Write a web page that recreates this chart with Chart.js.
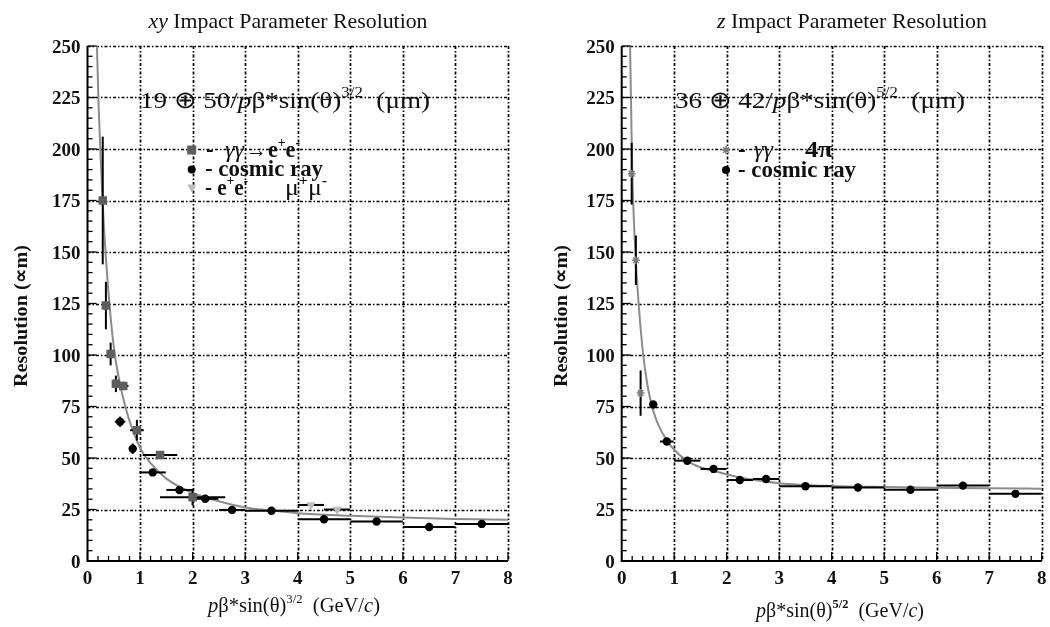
<!DOCTYPE html>
<html><head><meta charset="utf-8">
<script src="https://cdn.jsdelivr.net/npm/chart.js@4/dist/chart.umd.min.js"></script>
<style>
html,body{margin:0;padding:0;background:#fff;}
#wrap{position:relative;width:1050px;height:627px;overflow:hidden;background:#fff;}
canvas{position:absolute;top:0;}
</style></head><body>
<div id="wrap"><canvas id="c1" width="525" height="627" style="left:0"></canvas><canvas id="c2" width="525" height="627" style="left:525px"></canvas></div>
<script>
// ---------- data ----------
const xTickLabels = ['0','1','2','3','4','5','6','7','8'];
const yTickLabels = ['0','25','50','75','100','125','150','175','200','225','250'];

// xy panel: gamma gamma -> e+e-
const xyGgX    = [0.29, 0.35, 0.44, 0.54, 0.68, 0.94, 1.38, 2.0];
const xyGgY    = [175, 124, 100.5, 86, 85, 63.5, 51.5, 31];
const xyGgXErr = [0, 0, 0, 0, 0.1, 0.13, 0.33, 0.62];
const xyGgYErr = [31, 11.5, 5.5, 4, 2, 5, 1, 4];
// xy panel: cosmic ray
const xyCosX    = [0.62, 0.86, 1.24, 1.75, 2.24, 2.75, 3.5, 4.5, 5.5, 6.5, 7.5];
const xyCosY    = [67.6, 54.5, 43, 34.5, 30.2, 24.8, 24.4, 20.3, 19.2, 16.5, 18];
const xyCosXErr = [0.1, 0.07, 0.25, 0.25, 0.25, 0.25, 0.5, 0.5, 0.5, 0.5, 0.5];
const xyCosYErr = [2.5, 2.5, 1, 1, 1, 0.5, 0.5, 0.5, 0.5, 0.5, 0.5];
// xy panel: e+e- -> mu+mu-
const xyMuX    = [4.25, 4.75];
const xyMuY    = [27.2, 25];
const xyMuXErr = [0.25, 0.25];
const xyMuYErr = [0, 0];
// xy panel: fit curve
const xyFitX = [0.18, 0.21, 0.25, 0.29, 0.35, 0.42, 0.5, 0.6, 0.7, 0.8, 1.0, 1.2, 1.5, 2.0, 2.5, 3.0, 3.5, 4.0, 5.0, 6.0, 7.0, 8.0];
const xyFitY = [250, 222, 196, 173, 147, 124, 104, 88, 77, 68, 55, 47.5, 40, 33, 29, 26, 24.5, 23.2, 22, 21.1, 20.4, 20];

// z panel: gamma gamma -> 4pi
const zGgX    = [0.19, 0.27, 0.36];
const zGgY    = [188, 146, 81.5];
const zGgXErr = [0.03, 0.03, 0.03];
const zGgYErr = [15, 12, 11];
// z panel: cosmic ray
const zCosX    = [0.6, 0.86, 1.25, 1.75, 2.25, 2.75, 3.5, 4.5, 5.5, 6.5, 7.5];
const zCosY    = [76, 58, 48.7, 44.7, 39.3, 39.8, 36.3, 35.7, 34.6, 36.6, 32.6];
const zCosXErr = [0.07, 0.13, 0.25, 0.25, 0.25, 0.25, 0.5, 0.5, 0.5, 0.5, 0.5];
const zCosYErr = [1.5, 1.5, 1, 1, 1, 1, 0.5, 0.5, 0.5, 0.5, 0.5];
// z panel: fit curve
const zFitX = [0.16, 0.2, 0.25, 0.3, 0.35, 0.41, 0.48, 0.54, 0.6, 0.7, 0.86, 1.0, 1.25, 1.5, 1.75, 2.25, 3.0, 4.0, 5.0, 6.0, 7.0, 8.0];
const zFitY = [250, 190, 155, 133, 116, 100, 87, 79, 73, 66, 58.5, 54, 48.5, 45.5, 43.8, 40.5, 37.8, 36.4, 35.9, 35.6, 35.3, 35.1];

// ---------- helpers ----------
const SERIF = '"Liberation Serif","Times New Roman",serif';
function pts(xs, ys){ return xs.map((x,i)=>({x:x, y:ys[i]})); }
function fontStr(s, size){ return (s.i?'italic ':'')+(s.b?'bold ':'')+size+'px '+SERIF; }
function rich(ctx, segs, x, y, size, width, align){
  let total=0; const ms=[];
  for(const s of segs){ const sz = s.sup? size*0.62 : size; ctx.font=fontStr(s,sz); const w=ctx.measureText(s.t).width; ms.push([sz,w]); total+=w; }
  const k = width ? width/total : 1;
  const x0 = align==='center' ? x-total*k/2 : (align==='right' ? x-total*k : x);
  ctx.save(); ctx.translate(x0,y); ctx.scale(k,1);
  ctx.textAlign='left'; ctx.textBaseline='alphabetic';
  let cx=0;
  segs.forEach((s,i)=>{ ctx.font=fontStr(s,ms[i][0]); ctx.fillStyle=s.c||'#111'; ctx.fillText(s.t, cx, s.sup ? -size*0.45 : 0); cx+=ms[i][1]; });
  ctx.restore();
}
function marker(ctx, style, x, y, color){
  ctx.save(); ctx.fillStyle=color; ctx.strokeStyle=color;
  if(style==='rect'){ ctx.fillRect(x-4.5,y-4.5,9,9); }
  else if(style==='circle'){ ctx.beginPath(); ctx.arc(x,y,4,0,Math.PI*2); ctx.fill(); }
  else if(style==='tri'){ ctx.beginPath(); ctx.moveTo(x-4.5,y-4); ctx.lineTo(x+4.5,y-4); ctx.lineTo(x,y+4); ctx.closePath(); ctx.fill(); }
  else if(style==='star'){ ctx.lineWidth=1.5; ctx.beginPath(); for(let a=0;a<4;a++){ const t=a*Math.PI/4; ctx.moveTo(x-4*Math.cos(t),y-4*Math.sin(t)); ctx.lineTo(x+4*Math.cos(t),y+4*Math.sin(t)); } ctx.stroke(); }
  ctx.restore();
}

function panelPlugin(off, spec){
  return {
    id:'panel'+off,
    beforeDatasetsDraw(chart){
      const ctx=chart.ctx, a=chart.chartArea, xs=chart.scales.x, ys=chart.scales.y;
      ctx.save(); ctx.strokeStyle='#000'; ctx.lineWidth=1.7; ctx.setLineDash([3,2,1.5,2]);
      xTickLabels.forEach(l=>{ const v=+l; if(v===0) return; const p=Math.round(xs.getPixelForValue(v))+0.5; ctx.beginPath(); ctx.moveTo(p,a.top); ctx.lineTo(p,a.bottom); ctx.stroke(); });
      yTickLabels.forEach(l=>{ const v=+l; if(v===0) return; const p=Math.round(ys.getPixelForValue(v))+0.5; ctx.beginPath(); ctx.moveTo(a.left,p); ctx.lineTo(a.right,p); ctx.stroke(); });
      ctx.restore();
    },
    afterDatasetDraw(chart, args){
      if(args.index!==0) return;
      const ctx=chart.ctx, xs=chart.scales.x, ys=chart.scales.y;
      ctx.save(); ctx.strokeStyle='#000'; ctx.lineWidth=2; ctx.setLineDash([]);
      chart.data.datasets.forEach(ds=>{
        if(!ds.errX) return;
        ds.data.forEach((p,i)=>{
          const ex=ds.errX[i], ey=ds.errY[i];
          if(ex>0){ ctx.beginPath(); ctx.moveTo(xs.getPixelForValue(p.x-ex), ys.getPixelForValue(p.y)); ctx.lineTo(xs.getPixelForValue(p.x+ex), ys.getPixelForValue(p.y)); ctx.stroke(); }
          if(ey>0){ ctx.beginPath(); ctx.moveTo(xs.getPixelForValue(p.x), ys.getPixelForValue(p.y-ey)); ctx.lineTo(xs.getPixelForValue(p.x), ys.getPixelForValue(p.y+ey)); ctx.stroke(); }
        });
      });
      ctx.restore();
    },
    afterDraw(chart){
      const ctx=chart.ctx, a=chart.chartArea, xs=chart.scales.x, ys=chart.scales.y;
      ctx.save();
      ctx.translate(-off,0);
      const L=a.left+off, R=a.right+off, T=a.top, B=a.bottom;
      // axes
      ctx.strokeStyle='#000'; ctx.lineWidth=2; ctx.setLineDash([]);
      ctx.beginPath(); ctx.moveTo(L,T); ctx.lineTo(L,B); ctx.lineTo(R,B); ctx.stroke();
      ctx.lineWidth=1.3;
      for(let v=0; v<=250; v+=5){ const p=ys.getPixelForValue(v); const len = (v%25===0)?9:5; ctx.beginPath(); ctx.moveTo(L,p); ctx.lineTo(L+len,p); ctx.stroke(); }
      for(let k=0; k<=40; k++){ const v=k*0.2; const p=xs.getPixelForValue(v)+off; const len=(k%5===0)?9:5; ctx.beginPath(); ctx.moveTo(p,B); ctx.lineTo(p,B-len); ctx.stroke(); }
      // tick labels
      yTickLabels.forEach(l=>{ const p=ys.getPixelForValue(+l); rich(ctx,[{t:l,b:1}], L-7, p+6.5, 19, 0, 'right'); });
      xTickLabels.forEach(l=>{ const p=xs.getPixelForValue(+l)+off; rich(ctx,[{t:l,b:1}], p, 584, 19, 0, 'center'); });
      // titles
      rich(ctx, spec.title, spec.titleX, 28, 22, spec.titleW, 'center');
      rich(ctx, spec.xtitle, spec.xtitleX, spec.xtitleY, 20, spec.xtitleW, 'center');
      ctx.save(); ctx.translate(spec.ytitleX, 316); ctx.rotate(-Math.PI/2);
      rich(ctx, [{t:'Resolution (∝m)', b:1}], 0, 0, 19, 142, 'center');
      ctx.restore();
      rich(ctx, spec.formula, spec.formulaX, 108, 24, 290, 'left');
      // legend
      spec.legend.forEach(e=>{
        marker(ctx, e.m, e.mx, e.my, e.mc);
        e.parts.forEach(pt=> rich(ctx, pt.segs, pt.x, e.base, pt.size||23, pt.w||0, 'left'));
      });
      ctx.restore();
    }
  };
}

function makeChart(id, off, pad, datasets, spec){
  return new Chart(document.getElementById(id), {
    type:'scatter',
    data:{datasets:datasets},
    options:{
      responsive:false, animation:false, devicePixelRatio:1, events:[],
      layout:{padding:pad},
      plugins:{legend:{display:false}, tooltip:{enabled:false}, title:{display:false}},
      scales:{ x:{type:'linear', min:0, max:8, display:false}, y:{type:'linear', min:0, max:250, display:false} }
    },
    plugins:[panelPlugin(off, spec)]
  });
}

function fitDs(xs, ys){ return {type:'line', data:pts(xs,ys), borderColor:'#8c8c8c', borderWidth:2, pointRadius:0, cubicInterpolationMode:'monotone', fill:false, order:10}; }

// ---------- left panel ----------
makeChart('c1', 0, {left:87.5, right:17, top:46, bottom:66}, [
  fitDs(xyFitX, xyFitY),
  {data:pts(xyMuX,xyMuY), errX:xyMuXErr, errY:xyMuYErr, pointStyle:'triangle', rotation:180, pointRadius:5.5, backgroundColor:'#bdbdbd', borderColor:'#bdbdbd', borderWidth:0},
  {data:pts(xyCosX,xyCosY), errX:xyCosXErr, errY:xyCosYErr, pointStyle:'circle', pointRadius:4.2, backgroundColor:'#000', borderColor:'#000', borderWidth:0},
  {data:pts(xyGgX,xyGgY), errX:xyGgXErr, errY:xyGgYErr, pointStyle:'rect', pointRadius:6, backgroundColor:'#5e5e5e', borderColor:'#5e5e5e', borderWidth:0}
], {
  title:[{t:'xy',i:1},{t:' Impact Parameter Resolution'}], titleX:288, titleW:279,
  xtitle:[{t:'p',i:1},{t:'β*sin(θ)'},{t:'3/2',sup:1},{t:'  (GeV/'},{t:'c',i:1},{t:')'}], xtitleX:294, xtitleY:612, xtitleW:172,
  ytitleX:27,
  formula:[{t:'19 ⊕ 50/'},{t:'p',i:1},{t:'β*sin(θ)'},{t:'3/2',sup:1},{t:'  (μm)'}], formulaX:140,
  legend:[
    {m:'rect', mx:191.7, my:150, mc:'#5e5e5e', base:157, parts:[{segs:[{t:'-',b:1}],x:206},{segs:[{t:'γγ',i:1}],x:225,size:24},{segs:[{t:'→'}],x:246,size:21},{segs:[{t:'e',b:1},{t:'+',b:1,sup:1},{t:'e',b:1},{t:'-',b:1,sup:1}],x:268,w:32}]},
    {m:'circle', mx:191.7, my:169.5, mc:'#000', base:176, parts:[{segs:[{t:'- cosmic ray',b:1}],x:205,w:118}]},
    {m:'tri', mx:191.7, my:188.5, mc:'#bdbdbd', base:195, parts:[{segs:[{t:'- e',b:1},{t:'+',b:1,sup:1},{t:'e',b:1},{t:'-',b:1,sup:1}],x:205,w:43},{segs:[{t:'μ'},{t:'+',b:1,sup:1},{t:'μ'},{t:'-',b:1,sup:1}],x:285,w:42}]}
  ]
});

// ---------- right panel ----------
makeChart('c2', 525, {left:96.7, right:8.3, top:46, bottom:66}, [
  fitDs(zFitX, zFitY),
  {data:pts(zCosX,zCosY), errX:zCosXErr, errY:zCosYErr, pointStyle:'circle', pointRadius:4.2, backgroundColor:'#000', borderColor:'#000', borderWidth:0},
  {data:pts(zGgX,zGgY), errX:zGgXErr, errY:zGgYErr, pointStyle:'star', pointRadius:4, backgroundColor:'#7a7a7a', borderColor:'#7a7a7a', borderWidth:1.5}
], {
  title:[{t:'z',i:1},{t:' Impact Parameter Resolution'}], titleX:852, titleW:270,
  xtitle:[{t:'p',i:1},{t:'β*sin(θ)'},{t:'5/2',sup:1,b:1},{t:'  (GeV/'},{t:'c',i:1},{t:')'}], xtitleX:840, xtitleY:617, xtitleW:168,
  ytitleX:567,
  formula:[{t:'36 ⊕ 42/'},{t:'p',i:1},{t:'β*sin(θ)'},{t:'5/2',sup:1},{t:'  (μm)'}], formulaX:675,
  legend:[
    {m:'star', mx:726, my:150, mc:'#7a7a7a', base:157, parts:[{segs:[{t:'-',b:1}],x:738},{segs:[{t:'γγ',i:1}],x:754,size:24},{segs:[{t:'4',b:1},{t:'π',b:1}],x:805,w:28}]},
    {m:'circle', mx:726, my:170, mc:'#000', base:177, parts:[{segs:[{t:'- cosmic ray',b:1}],x:738,w:118}]}
  ]
});
</script>
</body></html>
